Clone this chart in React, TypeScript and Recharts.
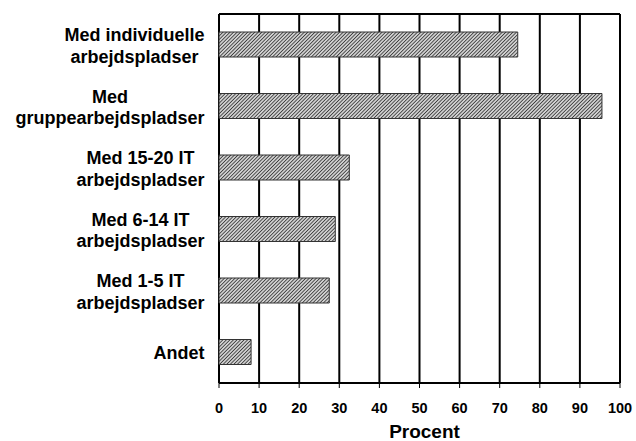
import React from "react";
import { BarChart, Bar, XAxis, YAxis, CartesianGrid, LabelList, ReferenceLine } from "recharts";

const categoryLines: string[][] = [
  ["Med individuelle", "arbejdspladser"],
  ["Med", "gruppearbejdspladser"],
  ["Med 15-20 IT", "arbejdspladser"],
  ["Med 6-14 IT", "arbejdspladser"],
  ["Med 1-5 IT", "arbejdspladser"],
  ["Andet"],
];
const values: number[] = [74.5, 95.5, 32.5, 29, 27.5, 8];
const xTicks: number[] = [0, 10, 20, 30, 40, 50, 60, 70, 80, 90, 100];
const yBoundaries: number[] = [0, 1, 2, 3, 4, 5, 6];
const xTitle = "Procent";

const FONT = '"Liberation Sans", Arial, Helvetica, sans-serif';

const data = categoryLines.map((lines, i) => ({
  name: lines.join(" "),
  idx: i,
  pos: i + 0.5,
  value: values[i],
}));

let ctx: CanvasRenderingContext2D | null = null;
function measure(text: string, font: string): number {
  if (!ctx && typeof document !== "undefined") {
    ctx = document.createElement("canvas").getContext("2d");
  }
  if (!ctx) return text.length * 10;
  ctx.font = font;
  return ctx.measureText(text).width;
}

const CategoryLabel = (props: any) => {
  const { x, y, height, index } = props;
  const lines = categoryLines[index] || [];
  const fontSize = 18;
  const fontStr = `bold ${fontSize}px "Liberation Sans", Arial, sans-serif`;
  const blockW = Math.max(...lines.map((l) => measure(l, fontStr)));
  const right = Number(x) - 14.5;
  const cx = right - blockW / 2;
  const cy = Number(y) + Number(height) / 2;
  const lineGap = 21.6;
  const firstBaseline = cy + 7.4 - ((lines.length - 1) * lineGap) / 2;
  return (
    <text
      textAnchor="middle"
      fontFamily={FONT}
      fontWeight="bold"
      fontSize={fontSize}
      fill="#000"
    >
      {lines.map((l, i) => (
        <tspan key={i} x={cx} y={firstBaseline + i * lineGap}>
          {l}
        </tspan>
      ))}
    </text>
  );
};

const XTick = (props: any) => {
  const { x, y, payload } = props;
  return (
    <text
      x={x}
      y={Number(y) + 10.5}
      textAnchor="middle"
      fontFamily={FONT}
      fontWeight="bold"
      fontSize={14.5}
      fill="#000"
    >
      {payload.value}
    </text>
  );
};

export default function App() {
  return (
    <div style={{ position: "absolute", left: 0, top: 0, background: "#fff" }}>
      <BarChart
        layout="vertical"
        width={636}
        height={441}
        data={data}
        margin={{ top: 14, right: 16, bottom: 0, left: 219 }}
      >
        <defs>
          <pattern
            id="hatch"
            width="2.5"
            height="2.5"
            patternUnits="userSpaceOnUse"
            patternTransform="rotate(45)"
          >
            <rect width="2.5" height="2.5" fill="#d0d0d0" />
            <line x1="0" y1="0" x2="0" y2="2.5" stroke="#111" strokeWidth="1.3" />
          </pattern>
        </defs>
        <CartesianGrid horizontal={false} vertical stroke="#000" strokeWidth={2} />
        <XAxis
          type="number"
          domain={[0, 100]}
          ticks={xTicks}
          interval={0}
          height={58}
          tickSize={5}
          tickMargin={14}
          axisLine={{ stroke: "#000", strokeWidth: 2 }}
          tickLine={{ stroke: "#000", strokeWidth: 1 }}
          tick={<XTick />}
          label={{
            value: xTitle,
            position: "insideBottom",
            offset: 3,
            dx: 5,
            style: { fill: "#000", fontSize: 19, fontWeight: "bold", fontFamily: FONT },
          }}
        />
        <YAxis
          type="number"
          dataKey="pos"
          domain={[0, 6]}
          ticks={yBoundaries}
          interval={0}
          width={0}
          tickSize={6}
          tickFormatter={() => ""}
          axisLine={{ stroke: "#000", strokeWidth: 2 }}
          tickLine={{ stroke: "#000", strokeWidth: 1 }}
        />
        <ReferenceLine y={0} stroke="#000" strokeWidth={2} />
        <Bar
          dataKey="value"
          barSize={25}
          fill="url(#hatch)"
          stroke="#333"
          strokeWidth={1}
          isAnimationActive={false}
        >
          <LabelList dataKey="name" content={<CategoryLabel />} />
        </Bar>
      </BarChart>
    </div>
  );
}
